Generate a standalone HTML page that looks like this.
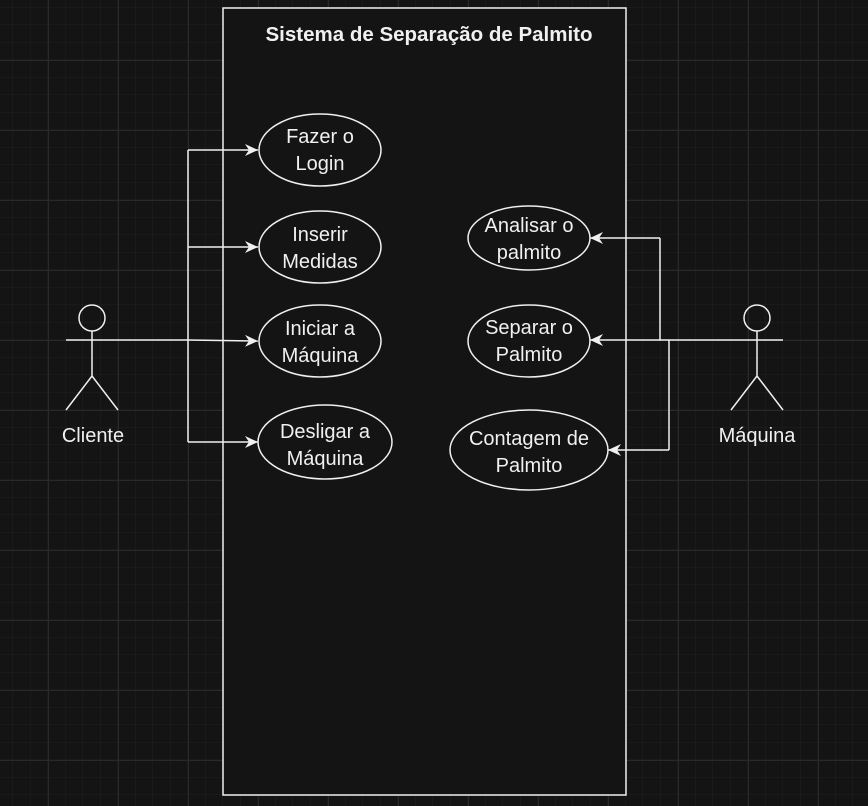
<!DOCTYPE html>
<html><head><meta charset="utf-8"><style>
html,body{margin:0;padding:0;background:#141414;}
svg{display:block}
text{font-family:"Liberation Sans",sans-serif;fill:#f0f0f0;font-size:20px;text-anchor:middle}
</style></head><body>
<svg width="868" height="806" viewBox="0 0 868 806" xmlns="http://www.w3.org/2000/svg">
<defs>
<pattern id="minor" x="-4.5" y="-10" width="17.5" height="17.5" patternUnits="userSpaceOnUse">
<path d="M17.5 0V17.5M0 17.5H17.5" stroke="#1f1f1f" stroke-width="1" fill="none"/>
</pattern>
<pattern id="major" x="48" y="60" width="70" height="70" patternUnits="userSpaceOnUse">
<path d="M0.5 0V70M0 0.5H70" stroke="#292929" stroke-width="1" fill="none"/>
</pattern>
<marker id="a" markerWidth="16" markerHeight="16" refX="13" refY="8" orient="auto" markerUnits="userSpaceOnUse">
<path d="M0,2 L13,8 L0,14 L4,8 Z" fill="#f0f0f0"/>
</marker>
</defs>
<rect width="868" height="806" fill="#141414"/>
<rect width="868" height="806" fill="url(#minor)"/>
<rect width="868" height="806" fill="url(#major)"/>

<rect x="223" y="8" width="403" height="787" fill="#141414" stroke="#f0f0f0" stroke-width="1.5"/>
<text x="429" y="41" style="font-weight:bold;font-size:20.5px">Sistema de Separação de Palmito</text>

<g fill="none" stroke="#f0f0f0" stroke-width="1.5">
<ellipse cx="320" cy="150" rx="61" ry="36"/>
<ellipse cx="320" cy="247" rx="61" ry="36"/>
<ellipse cx="320" cy="341" rx="61" ry="36"/>
<ellipse cx="325" cy="442" rx="67" ry="37"/>
<ellipse cx="529" cy="238" rx="61" ry="32"/>
<ellipse cx="529" cy="341" rx="61" ry="36"/>
<ellipse cx="529" cy="450" rx="79" ry="40"/>

<circle cx="92" cy="318" r="13"/>
<path d="M92 331V376M66 340H118M92 376L66 410M92 376L118 410"/>
<circle cx="757" cy="318" r="13"/>
<path d="M757 331V376M731 340H783M757 376L731 410M757 376L783 410"/>

<path d="M118 340H188M188 150V442"/>
<path d="M188 150H258" marker-end="url(#a)"/>
<path d="M188 247H258" marker-end="url(#a)"/>
<path d="M188 340L258 341" marker-end="url(#a)"/>
<path d="M188 442H258" marker-end="url(#a)"/>

<path d="M731 340H660V238"/>
<path d="M660 238H590" marker-end="url(#a)"/>
<path d="M660 340H590" marker-end="url(#a)"/>
<path d="M669 340V450"/>
<path d="M669 450H608" marker-end="url(#a)"/>
</g>

<text x="320" y="143">Fazer o</text><text x="320" y="170">Login</text>
<text x="320" y="241">Inserir</text><text x="320" y="268">Medidas</text>
<text x="320" y="335">Iniciar a</text><text x="320" y="362">Máquina</text>
<text x="325" y="438">Desligar a</text><text x="325" y="465">Máquina</text>
<text x="529" y="232">Analisar o</text><text x="529" y="259">palmito</text>
<text x="529" y="334">Separar o</text><text x="529" y="361">Palmito</text>
<text x="529" y="445">Contagem de</text><text x="529" y="472">Palmito</text>
<text x="93" y="442">Cliente</text>
<text x="757" y="442">Máquina</text>
</svg>
</body></html>
